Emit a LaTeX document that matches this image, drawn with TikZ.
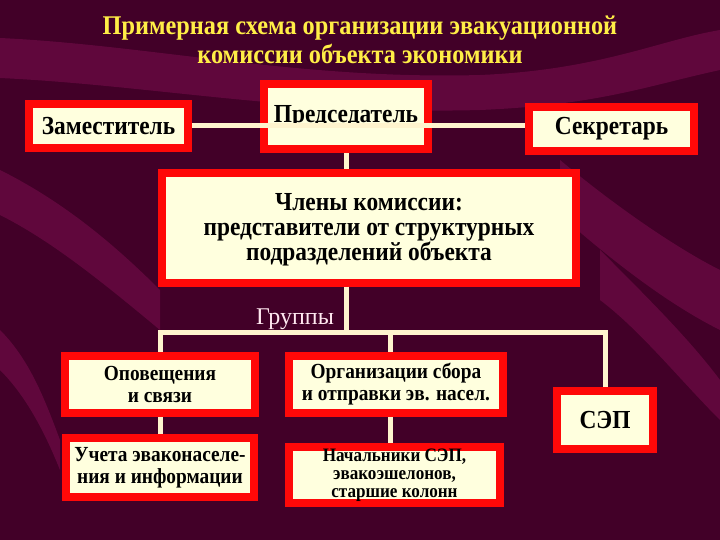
\documentclass[tikz,border=0pt]{standalone}
\usepackage{fontspec}
\setmainfont{Liberation Serif}[BoldFont={Liberation Serif Bold}, BoldFeatures={FakeStretch=0.9}]
\usetikzlibrary{positioning, calc}

\definecolor{bgdark}{RGB}{66,0,40}
\definecolor{bgband}{RGB}{122,14,78}
\definecolor{boxred}{RGB}{255,8,8}
\definecolor{boxfill}{RGB}{255,255,222}
\definecolor{linkcol}{RGB}{255,244,206}
\definecolor{titlecol}{RGB}{255,238,70}
\definecolor{grpcol}{RGB}{255,232,240}

\begin{document}
\begin{tikzpicture}[
  x=1pt, y=-1pt,
  bigbox/.style={draw=boxred, line width=8pt, fill=boxfill, align=center, inner sep=0pt,
    font=\fontsize{26}{25}\selectfont\bfseries},
  smallbox/.style={bigbox, font=\fontsize{21.5}{22}\selectfont\bfseries},
  link/.style={draw=linkcol, line width=5pt},
  band/.style={fill=bgband, opacity=0.55},
]

  % Background
  \useasboundingbox (0,0) rectangle (720,540);
  \fill[bgdark] (0,0) rectangle (720,540);
  \fill[band] (0,38) .. controls (150,45) and (300,80) .. (480,75) .. controls (600,70) and (660,40) .. (720,30)
    -- (720,70) .. controls (650,85) and (600,105) .. (480,110) .. controls (300,115) and (150,85) .. (0,78) -- cycle;
  \fill[band] (560,160) .. controls (620,210) and (680,250) .. (720,270) -- (720,330) .. controls (660,300) and (600,250) .. (560,215) -- cycle;
  \fill[band] (600,250) .. controls (650,300) and (690,340) .. (720,380) -- (720,420) .. controls (680,380) and (640,330) .. (600,300) -- cycle;
  \fill[band] (0,170) .. controls (60,200) and (110,240) .. (160,290) -- (160,330) .. controls (100,280) and (50,240) .. (0,215) -- cycle;
  \fill[band] (0,330) .. controls (30,360) and (45,400) .. (60,440) -- (60,470) .. controls (40,420) and (20,390) .. (0,370) -- cycle;

  % Title
  \node (title) [text=titlecol, align=center, font=\fontsize{27}{29}\selectfont\bfseries] at (360,40)
    {Примерная схема организации эвакуационной\\комиссии объекта экономики};

  % Top row
  \node (pred) [bigbox, minimum width=164pt, minimum height=65pt] at (346,117) {Председатель};
  \node (zam) [bigbox, minimum width=159pt, minimum height=44pt] at (108.5,126) {Заместитель};
  \node (sekr) [bigbox, minimum width=165pt, minimum height=44pt] at (611.5,129) {Секретарь};

  % Members
  \node (chl) [bigbox, minimum width=414pt, minimum height=109pt] at (369,228)
    {\rule{0pt}{20pt}Члены комиссии:\\представители от структурных\\подразделений объекта};

  % Groups
  \node (grp) [text=grpcol, font=\fontsize{24}{24}\selectfont] at (295,319) {Группы};
  \node (opov) [smallbox, minimum width=190pt, minimum height=57pt] at (160,384.5) {Оповещения\\и связи};
  \node (org) [smallbox, minimum width=214pt, minimum height=57pt] at (396,384.5) {Организации сбора\\и отправки эв. насел.};
  \node (uch) [smallbox, minimum width=188pt, minimum height=59pt] at (160,467.5) {Учета эваконаселе-\\ния и информации};
  \node (nach) [smallbox, minimum width=211pt, minimum height=56pt, font=\fontsize{19}{18}\selectfont\bfseries] at (394.5,475)
    {Начальники СЭП,\\эвакоэшелонов,\\старшие колонн};
  \node (sep) [bigbox, minimum width=96pt, minimum height=58pt] at (605,420) {СЭП};

  % Links
  \coordinate (bus) at ($(pred.south |- chl.south)+(0,46)$);
  \draw[link] (pred.east |- zam.east) -- (zam.east);
  \draw[link] (pred.east |- zam.east) -- (sekr.west |- zam.east);
  \draw[link] (pred.south) -- (pred.south |- chl.north);
  \draw[link] (pred.south |- chl.south) -- (bus);
  \draw[link] (opov.north) |- (bus) -| (sep.north);
  \draw[link] ([xshift=-6pt]org.north) -- ([xshift=-6pt]org.north |- bus);
  \draw[link] (opov.south) -- (uch.north);
  \draw[link] ([xshift=-6pt]org.south) -- ([xshift=-6pt]org.south |- nach.north);

\end{tikzpicture}
\end{document}
